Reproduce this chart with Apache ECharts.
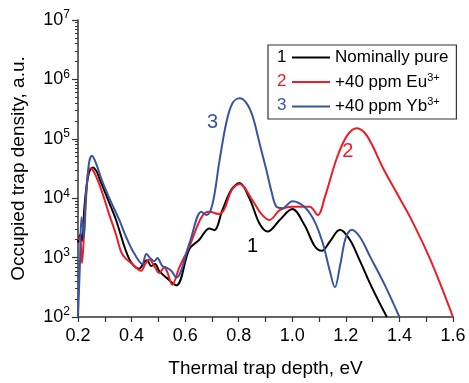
<!DOCTYPE html>
<html>
<head>
<meta charset="utf-8">
<script src="https://cdn.jsdelivr.net/npm/echarts@6/dist/echarts.min.js"></script>
<style>
html,body{margin:0;padding:0;background:#fff;}
#c{width:469px;height:383px;}
</style>
</head>
<body>
<div id="c"></div>
<script>
// ---- data ----
const seriesNames = ['Nominally pure', '+40 ppm Eu3+', '+40 ppm Yb3+'];

const xBlack = [0.2,0.21,0.215,0.225,0.24,0.256,0.27,0.279,0.316,0.342,0.391,0.428,0.447,0.458,0.473,0.488,0.503,0.53,0.567,0.616,0.653,0.69,0.709,0.739,0.773,0.803,0.84,0.878,0.908,0.953,1.0,1.046,1.084,1.11,1.14,1.178,1.215,1.253,1.297,1.353];
const yBlack = [1800,2500,1900,8000,26000,33000,28000,22000,8500,4300,950,650,830,900,720,780,600,460,340,1400,2000,3100,2900,6300,14000,18000,10000,3700,2750,4300,6600,3500,1550,1300,1850,2950,2000,870,316,100];

const xRed = [0.2,0.207,0.215,0.225,0.235,0.245,0.255,0.27,0.29,0.316,0.342,0.365,0.402,0.436,0.451,0.466,0.485,0.503,0.522,0.533,0.552,0.578,0.616,0.661,0.69,0.728,0.747,0.773,0.803,0.852,0.885,0.915,0.953,1.0,1.065,1.095,1.121,1.166,1.204,1.24,1.279,1.339,1.391,1.44,1.515,1.6];
const yRed = [2000,2200,810,4800,22000,32000,30000,22000,12600,5400,2450,1150,780,600,780,930,720,550,680,575,350,680,1550,4800,5900,5400,6600,13500,17400,9100,5400,4300,6300,7200,7200,5200,10200,47000,112000,151000,112000,32000,12000,4800,930,100];

const xBlue = [0.2,0.207,0.213,0.219,0.222,0.23,0.241,0.252,0.267,0.29,0.316,0.354,0.38,0.41,0.44,0.455,0.47,0.485,0.496,0.515,0.53,0.548,0.567,0.616,0.661,0.68,0.702,0.728,0.754,0.777,0.803,0.829,0.852,0.878,0.904,0.923,0.942,0.964,1.0,1.046,1.084,1.114,1.14,1.159,1.178,1.2,1.222,1.253,1.29,1.346,1.4];
const yBlue = [100,720,4800,3100,2200,10000,39000,52000,39000,19500,10200,4300,2200,1170,780,1150,980,870,980,720,680,600,460,1740,5900,5200,7900,42000,190000,400000,480000,400000,240000,83000,29000,12600,7100,6800,8900,7100,4000,1740,600,316,720,2200,2950,2200,1050,340,100];

const curveTags = ['1', '2', '3'];
const tagPositions = [[0.852, 1550], [1.207, 62000], [0.702, 190000]];

const yMinorTicks = [];
[100,1000,10000,100000,1000000].forEach(d => { for (let k = 2; k <= 9; k++) yMinorTicks.push(d * k); });

// ---- chart ----
const colors = ['#000000', '#ee1c25', '#3953a4'];
const FONT = 'Liberation Sans, Arial, sans-serif';
const chart = echarts.init(document.getElementById('c'), null, {renderer: 'canvas'});

function pairs(xs, ys) { return xs.map((x, i) => [x, ys[i]]); }
const datasets = [pairs(xBlack, yBlack), pairs(xRed, yRed), pairs(xBlue, yBlue)];

const axisColor = '#333';
const series = datasets.map((d, i) => ({
  name: seriesNames[i],
  type: 'line',
  data: d,
  symbol: 'none',
  smooth: 0.35,
  clip: true,
  lineStyle: {color: colors[i], width: 2},
  itemStyle: {color: colors[i]},
  z: 3,
  markPoint: {
    symbol: 'circle', symbolSize: 0,
    data: [{coord: tagPositions[i], value: curveTags[i]}],
    label: {show: true, formatter: curveTags[i], color: colors[i], fontSize: 20, fontFamily: FONT, position: 'inside'}
  }
}));

const legendRich = {
  n: {fontSize: 17, fontFamily: FONT, color: '#000'},
  s: {fontSize: 11, fontFamily: FONT, color: '#000', padding: [0, 0, 9, 0]}
};

chart.setOption({
  animation: false,
  backgroundColor: '#fff',
  grid: {left: 78, right: 16, top: 20, bottom: 61, containLabel: false},
  xAxis: {
    type: 'value', min: 0.2, max: 1.6, interval: 0.2,
    name: 'Thermal trap depth, eV', nameLocation: 'middle', nameGap: 42,
    nameTextStyle: {fontSize: 19, fontFamily: FONT, color: '#000'},
    axisLine: {show: true, lineStyle: {color: axisColor, width: 1.5}},
    axisTick: {show: true, inside: false, length: 5, lineStyle: {color: axisColor, width: 1.2}},
    minorTick: {show: true, splitNumber: 2, length: 5, lineStyle: {color: axisColor, width: 1.2}},
    axisLabel: {fontSize: 18, fontFamily: FONT, color: '#000', margin: 10, formatter: v => v.toFixed(1)},
    splitLine: {show: false}
  },
  yAxis: [{
    type: 'log', logBase: 10, min: 100, max: 1e7,
    name: 'Occupied trap density, a.u.', nameLocation: 'middle', nameGap: 50,
    nameTextStyle: {fontSize: 19, fontFamily: FONT, color: '#000'},
    axisLine: {show: true, lineStyle: {color: axisColor, width: 1.5}},
    axisTick: {show: true, inside: false, length: 6, lineStyle: {color: axisColor, width: 1.2}},
    axisLabel: {
      fontFamily: FONT, color: '#000', margin: 8,
      formatter: v => '{b|10}{s|' + Math.round(Math.log10(v)) + '}',
      rich: {
        b: {fontSize: 18, fontFamily: FONT, color: '#000'},
        s: {fontSize: 12, fontFamily: FONT, color: '#000', padding: [0, 0, 10, 0]}
      }
    },
    splitLine: {show: false}
  }, {
    type: 'log', logBase: 10, min: 100, max: 1e7, position: 'left',
    axisLine: {show: false},
    axisTick: {show: true, inside: false, length: 3, customValues: yMinorTicks, lineStyle: {color: axisColor, width: 1}},
    axisLabel: {show: false},
    splitLine: {show: false}
  }],
  legend: {
    orient: 'vertical', left: 268, top: 45,
    padding: [4, 8, 4, 24],
    itemWidth: 38, itemHeight: 2, itemGap: 6,
    borderColor: '#333', borderWidth: 1.2,
    backgroundColor: '#fff',
    icon: 'rect',
    data: seriesNames.map(n => ({name: n, icon: 'rect'})),
    textStyle: {fontSize: 17, fontFamily: FONT, color: '#000', rich: legendRich},
    formatter: function (name) {
      if (name.endsWith('3+')) return '{n|' + name.slice(0, -2) + '}{s|3+}';
      return '{n|' + name + '}';
    }
  },
  graphic: curveTags.map((t, i) => ({
    type: 'text', left: 277, top: 49 + i * 24, z: 100,
    style: {text: t, fontSize: 17, fontFamily: FONT, fill: colors[i]}
  })),
  series: series
});
</script>
</body>
</html>
